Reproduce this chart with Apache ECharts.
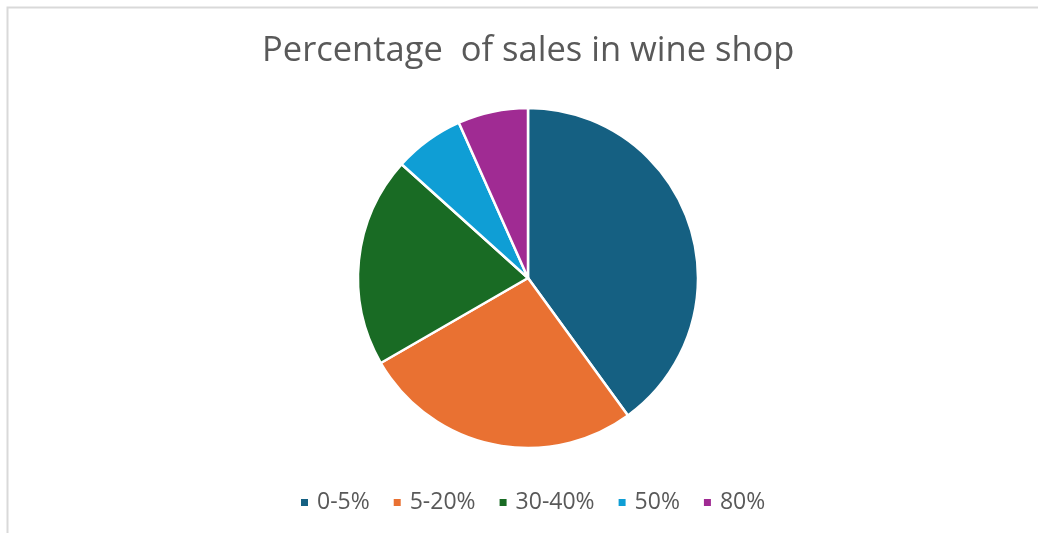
<!DOCTYPE html>
<html>
<head>
<meta charset="utf-8">
<script src="https://cdn.jsdelivr.net/npm/echarts@6/dist/echarts.min.js"></script>
<style>
  html, body { margin: 0; padding: 0; background: #fff; }
  #chart { width: 1038px; height: 533px; }
</style>
</head>
<body>
<div id="chart"></div>
<script>
// Sales share by discount band
const categories = ['0-5%', '5-20%', '30-40%', '50%', '80%'];
const salesValues = [12, 8, 6, 2, 2];
const sliceColors = ['#156082', '#E97132', '#196B24', '#0F9ED5', '#A02B93'];
const chartTitle = 'Percentage  of sales in wine shop';

const pieData = categories.map((name, i) => ({
  name: name,
  value: salesValues[i],
  itemStyle: { color: sliceColors[i] }
}));

const chart = echarts.init(document.getElementById('chart'), null, { renderer: 'canvas' });
chart.setOption({
  backgroundColor: '#ffffff',
  animation: false,
  graphic: [{
    type: 'rect',
    shape: { x: 7.5, y: 7.5, width: 1100, height: 600 },
    style: { fill: 'none', stroke: '#d9d9d9', lineWidth: 2 },
    silent: true
  }],
  title: {
    text: chartTitle,
    left: 257,
    top: 29,
    textStyle: {
      fontFamily: 'Open Sans',
      fontSize: 34.5,
      fontWeight: 'normal',
      color: '#595959'
    }
  },
  legend: {
    top: 486,
    left: 294,
    icon: 'rect',
    itemWidth: 9,
    itemHeight: 9,
    itemGap: 22,
    textStyle: {
      fontFamily: 'Open Sans',
      fontSize: 23,
      color: '#595959',
      padding: [0, 0, 0, 3]
    },
    data: categories
  },
  series: [{
    type: 'pie',
    center: [528, 278],
    radius: [0, 170],
    startAngle: 90,
    clockwise: true,
    label: { show: false },
    labelLine: { show: false },
    itemStyle: { borderColor: '#ffffff', borderWidth: 2.5 },
    emphasis: { disabled: true },
    data: pieData
  }]
});
</script>
</body>
</html>
